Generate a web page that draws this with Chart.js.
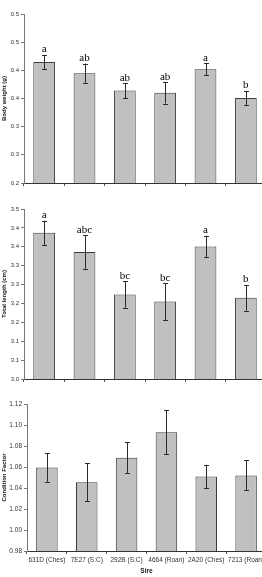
<!DOCTYPE html>
<html>
<head>
<meta charset="utf-8">
<script src="https://cdn.jsdelivr.net/npm/chart.js@4/dist/chart.umd.min.js"></script>
<style>
  html, body { margin: 0; padding: 0; background: #fff; }
  body { width: 262px; height: 577px; overflow: hidden; position: relative; }
  canvas { position: absolute; left: 0; }
</style>
</head>
<body>
<canvas id="c1" width="268" height="190" style="top:0px"></canvas>
<canvas id="c2" width="268" height="196" style="top:190px"></canvas>
<canvas id="c3" width="268" height="191" style="top:386px"></canvas>
<script>
// ---- data ----
const categories = ['631D (Ches)', '7E27 (S:C)', '292B (S:C)', '4664 (Roan)', '2A20 (Ches)', '7213 (Roan)'];

const bodyWeight = [0.415, 0.395, 0.364, 0.360, 0.402, 0.351];
const bodyWeightErr = [0.0125, 0.017, 0.0135, 0.019, 0.011, 0.0125];
const bodyWeightLetters = ['a', 'ab', 'ab', 'ab', 'a', 'b'];
const bodyWeightTickValues = [0.2, 0.25, 0.3, 0.35, 0.4, 0.45, 0.5];
const bodyWeightTickLabels = ['0.2', '0.3', '0.3', '0.4', '0.4', '0.5', '0.5'];

const totalLength = [3.387, 3.336, 3.224, 3.205, 3.351, 3.215];
const totalLengthErr = [0.032, 0.044, 0.035, 0.049, 0.028, 0.034];
const totalLengthLetters = ['a', 'abc', 'bc', 'bc', 'a', 'b'];
const totalLengthTickValues = [3.0, 3.05, 3.1, 3.15, 3.2, 3.25, 3.3, 3.35, 3.4, 3.45];
const totalLengthTickLabels = ['3.0', '3.1', '3.1', '3.2', '3.2', '3.3', '3.3', '3.4', '3.4', '3.5'];

const conditionFactor = [1.0595, 1.0455, 1.0687, 1.093, 1.051, 1.052];
const conditionFactorErr = [0.0135, 0.018, 0.0147, 0.021, 0.011, 0.0143];
const conditionFactorTickValues = [0.98, 1.00, 1.02, 1.04, 1.06, 1.08, 1.10, 1.12];
const conditionFactorTickLabels = ['0.98', '1.00', '1.02', '1.04', '1.06', '1.08', '1.10', '1.12'];

// ---- plugin: error bars + significance letters ----
const errorBarPlugin = {
  id: 'errorBars',
  afterDatasetsDraw(chart, args, opts) {
    const ctx = chart.ctx;
    const meta = chart.getDatasetMeta(0);
    const ys = chart.scales.y;
    const vals = chart.data.datasets[0].data;
    ctx.save();
    ctx.strokeStyle = '#2a2a2a';
    ctx.lineWidth = 1;
    meta.data.forEach((bar, i) => {
      const x = Math.round(bar.x) + 0.5;
      const e = opts.errors[i];
      const yTop = ys.getPixelForValue(vals[i] + e);
      const yBot = ys.getPixelForValue(vals[i] - e);
      const cap = 2.5;
      ctx.beginPath();
      ctx.moveTo(x, yTop); ctx.lineTo(x, yBot);
      ctx.moveTo(x - cap, Math.round(yTop) + 0.5); ctx.lineTo(x + cap, Math.round(yTop) + 0.5);
      ctx.moveTo(x - cap, Math.round(yBot) + 0.5); ctx.lineTo(x + cap, Math.round(yBot) + 0.5);
      ctx.stroke();
      if (opts.letters) {
        ctx.fillStyle = '#000';
        ctx.font = '11px "Liberation Serif", "Times New Roman", serif';
        ctx.textAlign = 'center';
        ctx.textBaseline = 'alphabetic';
        ctx.fillText(opts.letters[i], bar.x, yTop - 2.5);
      }
    });
    ctx.restore();
  }
};

function makeChart(id, values, errors, letters, tickValues, tickLabels, title, opts) {
  const tickFontSize = opts.tickFont;
  return new Chart(document.getElementById(id), {
    type: 'bar',
    data: {
      labels: categories,
      datasets: [{
        data: values,
        backgroundColor: '#c0c0c0',
        borderColor: '#3c3c3c',
        borderWidth: 1,
        borderSkipped: false,
        categoryPercentage: 1.0,
        barPercentage: 0.54
      }]
    },
    options: {
      responsive: false,
      animation: false,
      devicePixelRatio: 1,
      layout: { padding: { top: opts.padTop, right: 2, bottom: 0, left: 0 } },
      plugins: {
        legend: { display: false },
        tooltip: { enabled: false },
        errorBars: { errors: errors, letters: letters }
      },
      scales: {
        x: {
          offset: true,
          grid: { offset: true, drawOnChartArea: false, drawTicks: true, tickLength: 3, color: '#555' },
          border: { color: '#333', width: 1 },
          ticks: {
            display: opts.showX,
            maxRotation: 0, minRotation: 0, autoSkip: false,
            padding: 2,
            color: '#333',
            font: { family: '"Liberation Sans", Arial, sans-serif', size: 6.5 }
          },
          title: {
            display: opts.showX,
            text: 'Sire',
            color: '#222',
            padding: { top: 0, bottom: 1.5 },
            font: { family: '"Liberation Sans", Arial, sans-serif', size: 6.5, weight: 'bold' }
          },
          afterFit: (s) => { s.height = opts.xHeight; }
        },
        y: {
          min: tickValues[0],
          max: tickValues[tickValues.length - 1],
          afterBuildTicks: (s) => { s.ticks = tickValues.map(v => ({ value: v })); },
          grid: { drawOnChartArea: false, drawTicks: true, tickLength: 3, color: '#777' },
          border: { color: '#777', width: 1 },
          ticks: {
            padding: 2,
            color: '#333',
            font: { family: '"Liberation Sans", Arial, sans-serif', size: tickFontSize },
            callback: (v, i) => tickLabels[i]
          },
          title: {
            display: true,
            text: title,
            color: '#111',
            padding: { top: 0.5, bottom: 0 },
            font: { family: '"Liberation Sans", Arial, sans-serif', size: 6, weight: 'bold' }
          },
          afterFit: (s) => { s.width = opts.yWidth; }
        }
      }
    },
    plugins: [errorBarPlugin]
  });
}

makeChart('c1', bodyWeight, bodyWeightErr, bodyWeightLetters, bodyWeightTickValues, bodyWeightTickLabels,
  'Body weight (g)', { padTop: 14, xHeight: 7, yWidth: 24, showX: false, tickFont: 6 });
makeChart('c2', totalLength, totalLengthErr, totalLengthLetters, totalLengthTickValues, totalLengthTickLabels,
  'Total length (cm)', { padTop: 19, xHeight: 7, yWidth: 24, showX: false, tickFont: 6 });
makeChart('c3', conditionFactor, conditionFactorErr, null, conditionFactorTickValues, conditionFactorTickLabels,
  'Condition Factor', { padTop: 18, xHeight: 26, yWidth: 27, showX: true, tickFont: 6.5 });
</script>
</body>
</html>
